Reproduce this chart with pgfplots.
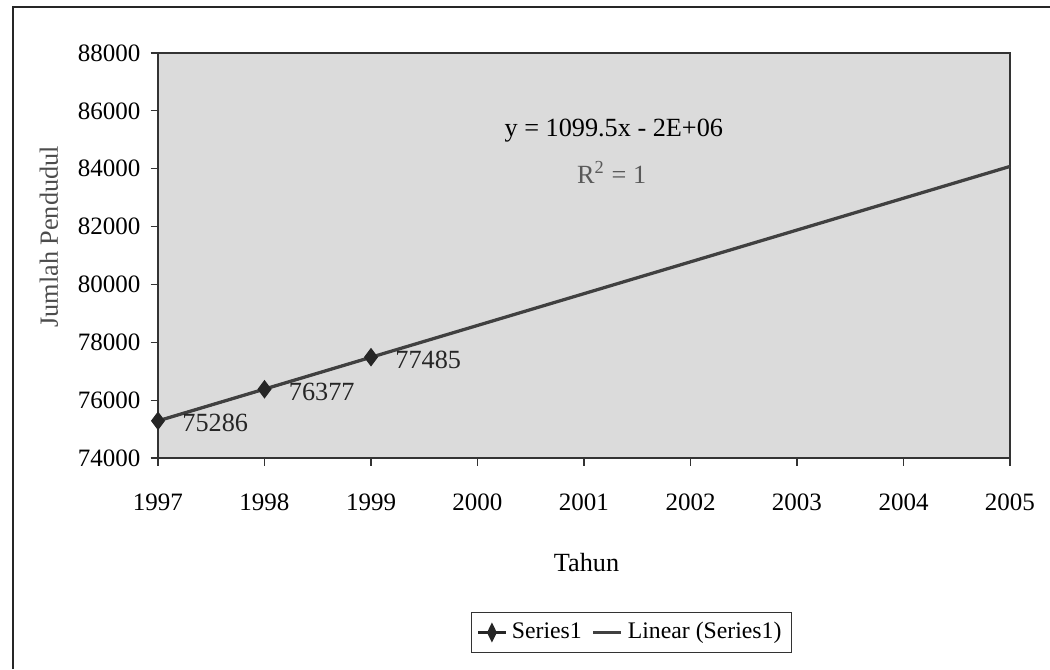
\documentclass[border=0pt]{standalone}
\usepackage{pgfplots}
\pgfplotsset{compat=1.18}
\usepackage{fontspec}
\setmainfont{Liberation Serif}

\begin{document}
\begin{tikzpicture}
% page size and the scanned frame (left and top edges only)
\path[use as bounding box] (-63.2pt,-84.4pt) rectangle (356.8pt,183.2pt);
\draw[line width=0.9pt, black!85] (-58pt,-84.4pt) -- (-58pt,180.4pt) -- (356.8pt,180.4pt);

\begin{axis}[
    at={(0,0)}, anchor=south west,
    scale only axis,
    width=340.8pt, height=162pt,
    xmin=1997, xmax=2005,
    ymin=74000, ymax=88000,
    xtick={1997,1998,...,2005},
    ytick={74000,76000,...,88000},
    scaled ticks=false,
    /pgf/number format/fixed,
    /pgf/number format/1000 sep={},
    /pgf/number format/assume math mode=true,
    tick pos=left,
    tick align=outside,
    major tick length=3pt,
    axis background/.style={fill=gray!28},
    axis line style={black!80, line width=0.5pt},
    every tick/.style={black!80, line width=0.5pt},
    tick label style={font=\fontsize{10}{12}\selectfont},
    xticklabel style={yshift=-8pt},
    yticklabel style={xshift=-0.5pt},
    xlabel={Tahun},
    ylabel={Jumlah Pendudul},
    label style={font=\fontsize{10.5}{12}\selectfont},
    xlabel style={at={(axis description cs:0.503,-0.257)}, anchor=center},
    ylabel style={at={(axis description cs:-0.128,0.546)}, anchor=center, text=black!70},
    legend style={draw=black!80, at={(0.556,-0.38)}, anchor=north,
        font=\fontsize{9.5}{11}\selectfont, legend columns=-1,
        inner sep=2pt,
        /tikz/every even column/.append style={column sep=2pt}},
    legend image post style={xscale=0.65},
    clip=false,
]
% Series1
\addplot[black!85, line width=0.9pt, mark=diamond*, mark size=3pt,
    mark options={fill=black!85},
    nodes near coords, point meta=explicit symbolic,
    every node near coord/.style={anchor=west, xshift=6pt, yshift=-1pt,
        font=\fontsize{10.5}{12}\selectfont, text=black!85}]
    coordinates {(1997,75286)[75286] (1998,76377)[76377] (1999,77485)[77485]};
\addlegendentry{Series1}
% linear trendline
\addplot[black!75, line width=1.3pt] coordinates {(1997,75283) (2005,84079)};
\addlegendentry{Linear (Series1)}

\node[font=\fontsize{10.5}{12}\selectfont] at (axis cs:2001.28,85304) {y = 1099.5x - 2E+06};
\node[font=\fontsize{10.5}{12}\selectfont, text=black!65] at (axis cs:2001.26,83886) {R\textsuperscript{2} = 1};
\end{axis}
\end{tikzpicture}
\end{document}
